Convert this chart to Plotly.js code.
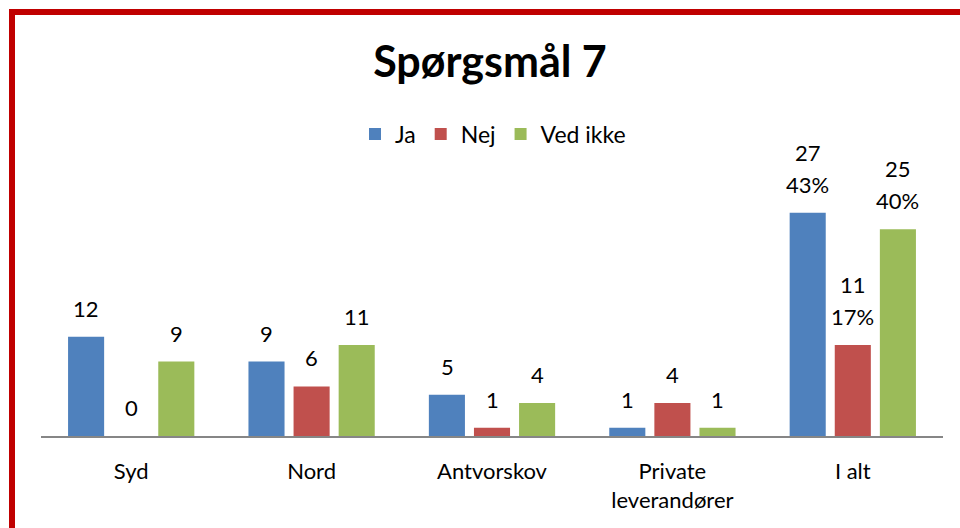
<!DOCTYPE html>
<html>
<head>
<meta charset="utf-8">
<script src="https://cdn.plot.ly/plotly-3.0.1.min.js"></script>
<style>
  html, body { margin: 0; padding: 0; background: #ffffff; }
  #wrap { position: relative; width: 960px; height: 528px; overflow: hidden; }
  #chart { position: absolute; left: 0; top: 0; width: 960px; height: 528px; }
  #frame { position: absolute; left: 9px; top: 9px; width: 960px; height: 540px;
           border-top: 6px solid #c00000; border-left: 6px solid #c00000; pointer-events: none; }
</style>
</head>
<body>
<div id="wrap">
  <div id="chart"></div>
  <div id="frame"></div>
</div>
<script>
// ---- data ----
const categories = ["Syd", "Nord", "Antvorskov", "Private<br>leverandører", "I alt"];
const seriesNames = ["Ja", "Nej", "Ved ikke"];
const ja      = [12, 9, 5, 1, 27];
const nej     = [0, 6, 1, 4, 11];
const vedIkke = [9, 11, 4, 1, 25];
const totalPct = ["43%", "17%", "40%"];   // percentages shown on "I alt"
const seriesColors = ["#4F81BD", "#C0504D", "#9BBB59"];

const FONT = "Lato, 'Open Sans', sans-serif";
const seriesValues = [ja, nej, vedIkke];

const traces = seriesValues.map((vals, i) => ({
  type: "bar",
  name: seriesNames[i],
  x: categories,
  y: vals,
  marker: { color: seriesColors[i] },
  hoverinfo: "skip"
}));

// data labels
const annotations = [];
const GAP = 13, LINE = 32, SLOT = 45;
seriesValues.forEach((vals, i) => {
  vals.forEach((v, j) => {
    const isTotal = j === categories.length - 1;
    annotations.push({
      x: categories[j], y: v, xref: "x", yref: "y",
      text: String(v), showarrow: false,
      xanchor: "center", yanchor: "bottom",
      xshift: (i - 1) * SLOT, yshift: GAP + (isTotal ? LINE : 0),
      font: { family: FONT, size: 22, color: "#000" }
    });
    if (isTotal) {
      annotations.push({
        x: categories[j], y: v, xref: "x", yref: "y",
        text: totalPct[i], showarrow: false,
        xanchor: "center", yanchor: "bottom",
        xshift: (i - 1) * SLOT, yshift: GAP,
        font: { family: FONT, size: 22, color: "#000" }
      });
    }
  });
});

const layout = {
  width: 960, height: 528,
  paper_bgcolor: "#ffffff", plot_bgcolor: "#ffffff",
  margin: { l: 41, r: 17, t: 188, b: 92 },
  font: { family: FONT, color: "#000" },
  title: {
    text: "<b>Spørgsmål 7</b>",
    font: { family: FONT, size: 43, color: "#000" },
    x: 490 / 960, xref: "container", xanchor: "center",
    y: 1 - 62 / 528, yref: "container", yanchor: "middle"
  },
  barmode: "group",
  bargap: 0.25,
  bargroupgap: 0.2,
  showlegend: true,
  legend: {
    orientation: "h",
    x: (493 - 41) / 902, xanchor: "center",
    y: (436 - 134) / 248, yanchor: "middle",
    font: { family: FONT, size: 23, color: "#000" },
    itemclick: false, itemdoubleclick: false
  },
  xaxis: {
    type: "category",
    showline: true, linecolor: "#868686", linewidth: 2,
    ticks: "outside", ticklen: 15, tickcolor: "rgba(0,0,0,0)",
    tickfont: { family: FONT, size: 22, color: "#000" },
    showgrid: false, zeroline: false, fixedrange: true
  },
  yaxis: {
    range: [0, 30],
    visible: false, showgrid: false, zeroline: false, fixedrange: true
  },
  annotations: annotations
};

Plotly.newPlot("chart", traces, layout, { displayModeBar: false, staticPlot: true });
</script>
</body>
</html>
